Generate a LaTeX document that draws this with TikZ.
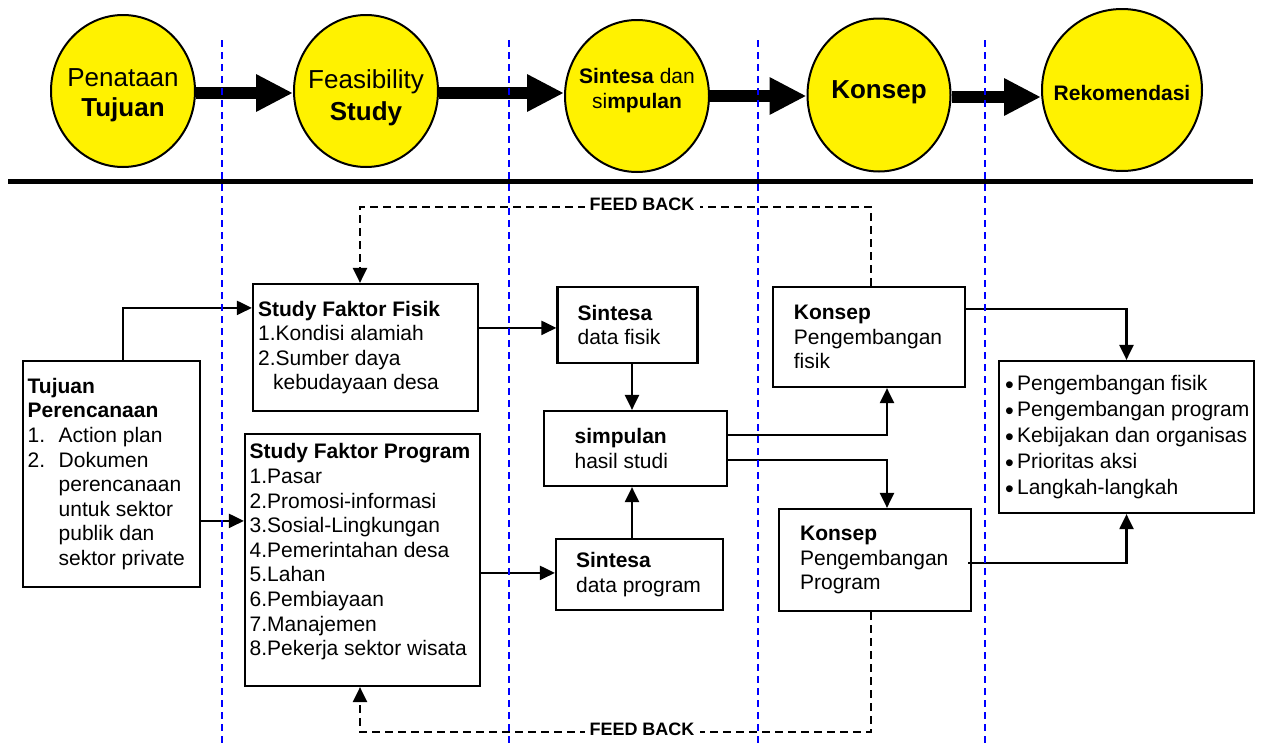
\documentclass[tikz,border=0pt]{standalone}
\usepackage{fontspec}
\setmainfont{Liberation Sans}
\usetikzlibrary{arrows.meta,shapes.geometric,calc}
\newcommand{\bul}{\makebox[12pt][l]{\raisebox{-3pt}{\fontsize{25}{25}\selectfont\textbullet}}}
\begin{document}
\begin{tikzpicture}[x=1pt,y=-1pt,
  circ/.style={ellipse, draw=black, line width=2pt, fill=yellow, inner sep=0pt},
  ctext/.style={align=center, inner sep=0pt},
  bigarrow/.style={line width=12.5pt, -{Triangle[length=37pt,width=35pt]}},
  box/.style={draw=black, line width=2.2pt, inner sep=0pt},
  txt/.style={anchor=west, align=left, inner sep=0pt, font=\fontsize{21}{24.6}\selectfont},
  conn/.style={line width=2.2pt, -{Triangle[length=15pt,width=14pt]}},
  fb/.style={line width=2.2pt, dash pattern=on 8pt off 5pt, -{Triangle[length=15pt,width=14pt]}},
  fblabel/.style={fill=white, inner xsep=5pt, inner ysep=2pt, font=\fontsize{18}{20}\selectfont\bfseries},
  guide/.style={draw=blue, line width=2.2pt, dash pattern=on 7pt off 5pt}
]
\useasboundingbox (0,0) rectangle (1262,745);

% top circles
\node[circ, minimum width=144pt, minimum height=152pt] (c1) at (123,91) {};
\node[circ, minimum width=144pt, minimum height=152pt] (c2) at (366,91) {};
\node[circ, minimum width=144pt, minimum height=152pt] (c3) at (637,96) {};
\node[circ, minimum width=143pt, minimum height=153pt] (c4) at (879,95) {};
\node[circ, minimum width=160pt, minimum height=162pt] (c5) at (1122,90) {};

\node[ctext, font=\fontsize{26}{30}\selectfont] (c1t) at (123,95) {Penataan\\\textbf{Tujuan}};
\node[ctext, font=\fontsize{26}{32}\selectfont] (c2t) at (366,98) {Feasibility\\\textbf{Study}};
\node[ctext, font=\fontsize{21}{25}\selectfont] (c3t) at (637,91) {\textbf{Sintesa} dan\\si\textbf{mpulan}};
\node[ctext, font=\fontsize{26}{30}\selectfont] (c4t) at (879,92) {\textbf{Konsep}};
\node[ctext, font=\fontsize{21}{25}\selectfont] (c5t) at (1122,93) {\textbf{Rekomendasi}};

\draw[bigarrow] ([yshift=-2pt]c1.east) -- ([yshift=-2pt]c1.east -| c2.west);
\draw[bigarrow] ([yshift=-2pt]c2.east) -- ([yshift=-2pt]c2.east -| c3.west);
\draw[bigarrow] (c3.east) -- (c3.east -| c4.west);
\draw[bigarrow] ([yshift=-2pt]c4.east) -- ([yshift=-2pt]c4.east -| c5.west);

% separator
\draw[line width=5.5pt] (8,181.5) -- (1253,181.5);

% boxes
\node[box, minimum width=225pt, minimum height=127pt] (fisik) at (365.5,347.5) {};
\node[box, minimum width=235pt, minimum height=252pt] (prog) at (362.5,560) {};
\node[box, minimum width=177pt, minimum height=226pt] (tuj) at (111.5,474) {};
\node[box, minimum width=140pt, minimum height=76pt] (sinF) at (627.5,325) {};
\node[box, minimum width=183pt, minimum height=75pt] (simp) at (635.5,448.5) {};
\node[box, minimum width=167pt, minimum height=71pt] (sinP) at (639.5,574.5) {};
\node[box, minimum width=191.5pt, minimum height=100pt] (konF) at (869,337) {};
\node[box, minimum width=192pt, minimum height=102pt] (konP) at (875,560) {};
\node[box, minimum width=255pt, minimum height=152pt] (rekom) at (1126.5,437) {};

% box texts
\node[txt] (fisikT) at ([xshift=6pt]fisik.west) {\textbf{Study Faktor Fisik}\\1.Kondisi alamiah\\2.Sumber daya\\\hspace*{15pt}kebudayaan desa};
\node[txt] (progT) at ([xshift=5.6pt]prog.west) {\textbf{Study Faktor Program}\\1.Pasar\\2.Promosi-informasi\\3.Sosial-Lingkungan\\4.Pemerintahan desa\\5.Lahan\\6.Pembiayaan\\7.Manajemen\\8.Pekerja sektor wisata\\[-4pt]\mbox{}};
\node[txt] (tujT) at ([xshift=5.6pt]tuj.west) {\textbf{Tujuan}\\\textbf{Perencanaan}\\\makebox[31pt][l]{1.}Action plan\\\makebox[31pt][l]{2.}Dokumen\\\hspace*{31pt}perencanaan\\\hspace*{31pt}untuk sektor\\\hspace*{31pt}publik dan\\\hspace*{31pt}sektor private};
\node[txt] (sinFT) at ([xshift=21pt]sinF.west) {\textbf{Sintesa}\\data fisik};
\node[txt] (simpT) at ([xshift=31.5pt]simp.west) {\textbf{simpulan}\\hasil studi};
\node[txt] (sinPT) at ([xshift=21pt]sinP.west) {\textbf{Sintesa}\\data program};
\node[txt] (konFT) at ([xshift=21.5pt]konF.west) {\textbf{Konsep}\\Pengembangan\\fisik};
\node[txt] (konPT) at ([xshift=22pt]konP.west) {\textbf{Konsep}\\Pengembangan\\Program};
\node[txt, font=\fontsize{21}{26.2}\selectfont] (rekomT) at ([xshift=7pt]rekom.west) {\bul Pengembangan fisik\\\bul Pengembangan program\\\bul Kebijakan dan organisas\\\bul Prioritas aksi\\\bul Langkah-langkah};

% helper coordinates
\coordinate (xmid) at (632,0);
\coordinate (xk) at (887,0);
\coordinate (fbTR) at (871,207);
\coordinate (fbTL) at (360,207);
\coordinate (fbBR) at (871,732);
\coordinate (fbBL) at (360,732);

% connectors
\draw[conn] ($(tuj.north west)+(101,0)$) |- ($(fisik.north west)+(0,25)$);
\draw[conn] ($(tuj.north east)+(0,161)$) -- ($(prog.north west)+(0,88)$);
\draw[conn] ($(fisik.north east)+(0,45)$) -- ($(sinF.north west)+(0,42)$);
\draw[conn] ($(prog.north east)+(0,140)$) -- ($(sinP.north west)+(0,35)$);
\draw[conn] (sinF.south -| xmid) -- (simp.north -| xmid);
\draw[conn] (sinP.north -| xmid) -- (simp.south -| xmid);
\draw[conn] ($(simp.north east)+(0,25)$) -| (konF.south -| xk);
\draw[conn] ($(simp.north east)+(0,50)$) -| (konP.north -| xk);
\draw[conn] ($(konF.north east)+(0,23)$) -| (rekom.north);
\draw[conn] ($(konP.north east)+(-4,55)$) -| (rekom.south);

% feedback
\draw[fb] (konF.north -| fbTR) -- (fbTR) -- (fbTL) -- (fisik.north -| fbTL);
\draw[fb] (konP.south -| fbBR) -- (fbBR) -- (fbBL) -- (prog.south -| fbBL);
\node[fblabel] (fb1) at (642,204) {FEED BACK};
\node[fblabel] (fb2) at (642,729) {FEED BACK};

% blue guide lines
\draw[guide] (222,40) -- (222,745);
\draw[guide] (509,40) -- (509,745);
\draw[guide] (758,40) -- (758,745);
\draw[guide] (985,40) -- (985,745);
\end{tikzpicture}
\end{document}
